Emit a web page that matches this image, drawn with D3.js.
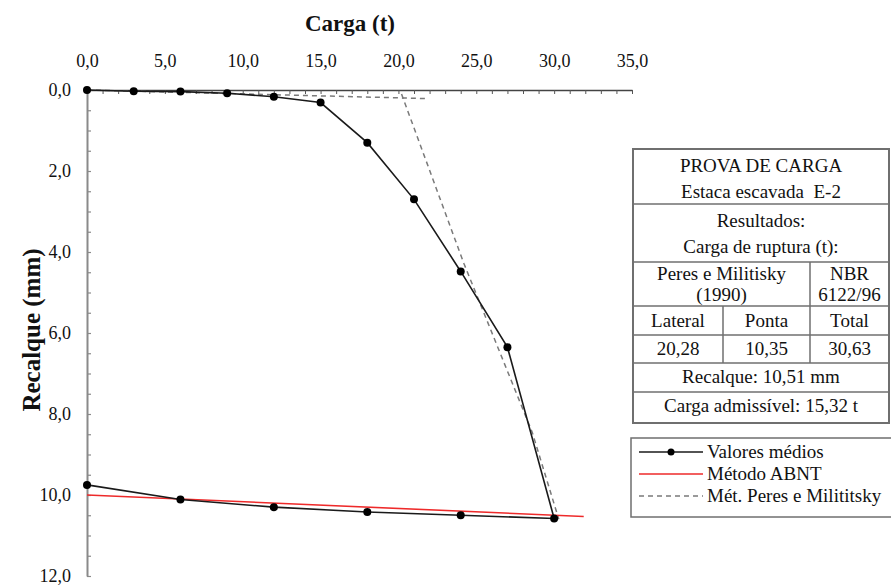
<!DOCTYPE html>
<html>
<head>
<meta charset="utf-8">
<script src="https://cdn.jsdelivr.net/npm/d3@7"></script>
<style>
  html, body { margin: 0; padding: 0; background: #fff; }
  svg { display: block; }
  svg text { font-family: "Liberation Serif", "Times New Roman", serif; fill: #111; }
</style>
</head>
<body>
<svg id="chart" width="891" height="585"></svg>
<script>
// Load test, pile E-2: load (t) vs settlement (mm)
const loadT      = [0, 3, 6, 9, 12, 15, 18, 21, 24, 27, 30, 24, 18, 12, 6, 0];
const settleMm   = [0, 0.03, 0.04, 0.08, 0.165, 0.31, 1.3, 2.7, 4.48, 6.35, 10.58, 10.5, 10.42, 10.3, 10.11, 9.75];

// NBR 6122 reference line
const abntLoad   = [0, 31.9];
const abntSettle = [10.0, 10.53];

// Peres & Militisky construction: lateral branch and tip branch
const pmLatLoad    = [0, 21.7];
const pmLatSettle  = [0, 0.21];
const pmTipLoad    = [20.2, 24.2, 28.6, 30.3];
const pmTipSettle  = [0.1, 4.28, 8.46, 10.6];

const xMajor = [0, 5, 10, 15, 20, 25, 30, 35];
const yMajor = [0, 2, 4, 6, 8, 10, 12];

const svg = d3.select("#chart");
const x = d3.scaleLinear().domain([0, 35]).range([87, 632]);
const y = d3.scaleLinear().domain([0, 12]).range([90, 576]);
const fmt = d => d.toFixed(1).replace(".", ",");
const SERIF = "'Liberation Serif', 'Times New Roman', serif";

// top axis: labels
const xLab = svg.append("g").attr("transform", `translate(0,${y(0)})`)
  .call(d3.axisTop(x).tickValues(xMajor).tickSize(0).tickPadding(23).tickFormat(fmt));
xLab.attr("font-family", SERIF);
xLab.select(".domain").remove();
xLab.selectAll("text").attr("font-size", 18).attr("fill", "#111");

// top axis: line with minor ticks pointing down
const xTicks = svg.append("g").attr("transform", `translate(0,${y(0)})`)
  .call(d3.axisBottom(x).tickValues(d3.range(0, 36, 1)).tickSize(4).tickSizeOuter(0).tickFormat(""));
xTicks.select(".domain").attr("stroke", "#444").attr("stroke-width", 1.6);
xTicks.selectAll(".tick line").attr("stroke", "#555").attr("stroke-width", 1);

// left axis: labels
const yLab = svg.append("g").attr("transform", `translate(${x(0)},0)`)
  .call(d3.axisLeft(y).tickValues(yMajor).tickSize(0).tickPadding(16).tickFormat(fmt));
yLab.attr("font-family", SERIF);
yLab.select(".domain").remove();
yLab.selectAll("text").attr("font-size", 18).attr("fill", "#111");

// left axis: line with minor ticks pointing right
const yTicks = svg.append("g").attr("transform", `translate(${x(0)},0)`)
  .call(d3.axisRight(y).tickValues(d3.range(0, 12.01, 0.5)).tickSize(4).tickSizeOuter(0).tickFormat(""));
yTicks.select(".domain").attr("stroke", "#8a8a8a").attr("stroke-width", 2);
yTicks.selectAll(".tick line").attr("stroke", "#8a8a8a").attr("stroke-width", 1.2);

// axis titles
svg.append("text").attr("x", 350).attr("y", 31).attr("text-anchor", "middle")
  .attr("font-family", SERIF).attr("font-size", 23).attr("font-weight", "bold").text("Carga (t)");
svg.append("text").attr("transform", "translate(40,330) rotate(-90)").attr("text-anchor", "middle")
  .attr("font-family", SERIF).attr("font-size", 25).attr("font-weight", "bold").text("Recalque (mm)");

const line = d3.line().x(d => x(d[0])).y(d => y(d[1]));
const zip = (a, b) => a.map((v, i) => [v, b[i]]);

// Peres & Militisky dashed lines
[zip(pmLatLoad, pmLatSettle), zip(pmTipLoad, pmTipSettle)].forEach(pts => {
  svg.append("path").datum(pts).attr("d", line).attr("fill", "none")
    .attr("stroke", "#7a7a7a").attr("stroke-width", 1.5).attr("stroke-dasharray", "5,4");
});

// ABNT line
svg.append("path").datum(zip(abntLoad, abntSettle)).attr("d", line).attr("fill", "none")
  .attr("stroke", "#ee2a2a").attr("stroke-width", 1.6);

// measured curve
const meas = zip(loadT, settleMm);
svg.append("path").datum(meas).attr("d", line).attr("fill", "none")
  .attr("stroke", "#1a1a1a").attr("stroke-width", 1.6);
svg.selectAll("circle.pt").data(meas).join("circle").attr("class", "pt")
  .attr("cx", d => x(d[0])).attr("cy", d => y(d[1])).attr("r", 4).attr("fill", "#000");

// results table
const tbl = svg.append("g").attr("font-family", SERIF);
const tL = 633, tR = 889, tC1 = 723, tC2 = 810;
const rows = [149, 204, 262, 306, 335, 363, 392, 423];
const ln = (x1, y1, x2, y2) => tbl.append("line").attr("x1", x1).attr("y1", y1).attr("x2", x2).attr("y2", y2)
  .attr("stroke", "#6f6f6f").attr("stroke-width", 1.5);
tbl.append("rect").attr("x", tL).attr("y", rows[0]).attr("width", tR - tL).attr("height", rows[7] - rows[0])
  .attr("fill", "#fff").attr("stroke", "#6f6f6f").attr("stroke-width", 2);
rows.slice(1, 7).forEach(r => ln(tL, r, tR, r));
ln(tC2, rows[2], tC2, rows[5]);
ln(tC1, rows[3], tC1, rows[5]);

const cellText = [
  ["PROVA DE CARGA", (tL + tR) / 2, 172],
  ["Estaca escavada  E-2", (tL + tR) / 2, 198],
  ["Resultados:", (tL + tR) / 2, 227],
  ["Carga de ruptura (t):", (tL + tR) / 2, 253],
  ["Peres e Militisky", (tL + tC2) / 2, 280],
  ["(1990)", (tL + tC2) / 2, 301],
  ["NBR", (tC2 + tR) / 2, 280],
  ["6122/96", (tC2 + tR) / 2, 301],
  ["Lateral", (tL + tC1) / 2, 327],
  ["Ponta", (tC1 + tC2) / 2, 327],
  ["Total", (tC2 + tR) / 2, 327],
  ["20,28", (tL + tC1) / 2, 355],
  ["10,35", (tC1 + tC2) / 2, 355],
  ["30,63", (tC2 + tR) / 2, 355],
  ["Recalque: 10,51 mm", (tL + tR) / 2, 383],
  ["Carga admissível: 15,32 t", (tL + tR) / 2, 412]
];
tbl.selectAll("text.cell").data(cellText).join("text").attr("class", "cell")
  .attr("x", d => d[1]).attr("y", d => d[2]).attr("text-anchor", "middle")
  .attr("font-size", 19).attr("xml:space", "preserve").style("white-space", "pre").text(d => d[0]);

// legend
const lg = svg.append("g").attr("font-family", SERIF);
lg.append("rect").attr("x", 631).attr("y", 438).attr("width", 280).attr("height", 79)
  .attr("fill", "#fff").attr("stroke", "#6f6f6f").attr("stroke-width", 1.5);
const legendItems = [
  { label: "Valores médios", color: "#1a1a1a", dash: null, dot: true, yy: 452 },
  { label: "Método ABNT", color: "#ee2a2a", dash: null, dot: false, yy: 474 },
  { label: "Mét. Peres e Milititsky", color: "#7a7a7a", dash: "5,4", dot: false, yy: 496 }
];
legendItems.forEach(it => {
  lg.append("line").attr("x1", 639).attr("x2", 703).attr("y1", it.yy).attr("y2", it.yy)
    .attr("stroke", it.color).attr("stroke-width", 1.6).attr("stroke-dasharray", it.dash);
  if (it.dot) lg.append("circle").attr("cx", 671).attr("cy", it.yy).attr("r", 3.5).attr("fill", "#000");
  lg.append("text").attr("x", 707).attr("y", it.yy + 6).attr("font-size", 19).text(it.label);
});
</script>
</body>
</html>
